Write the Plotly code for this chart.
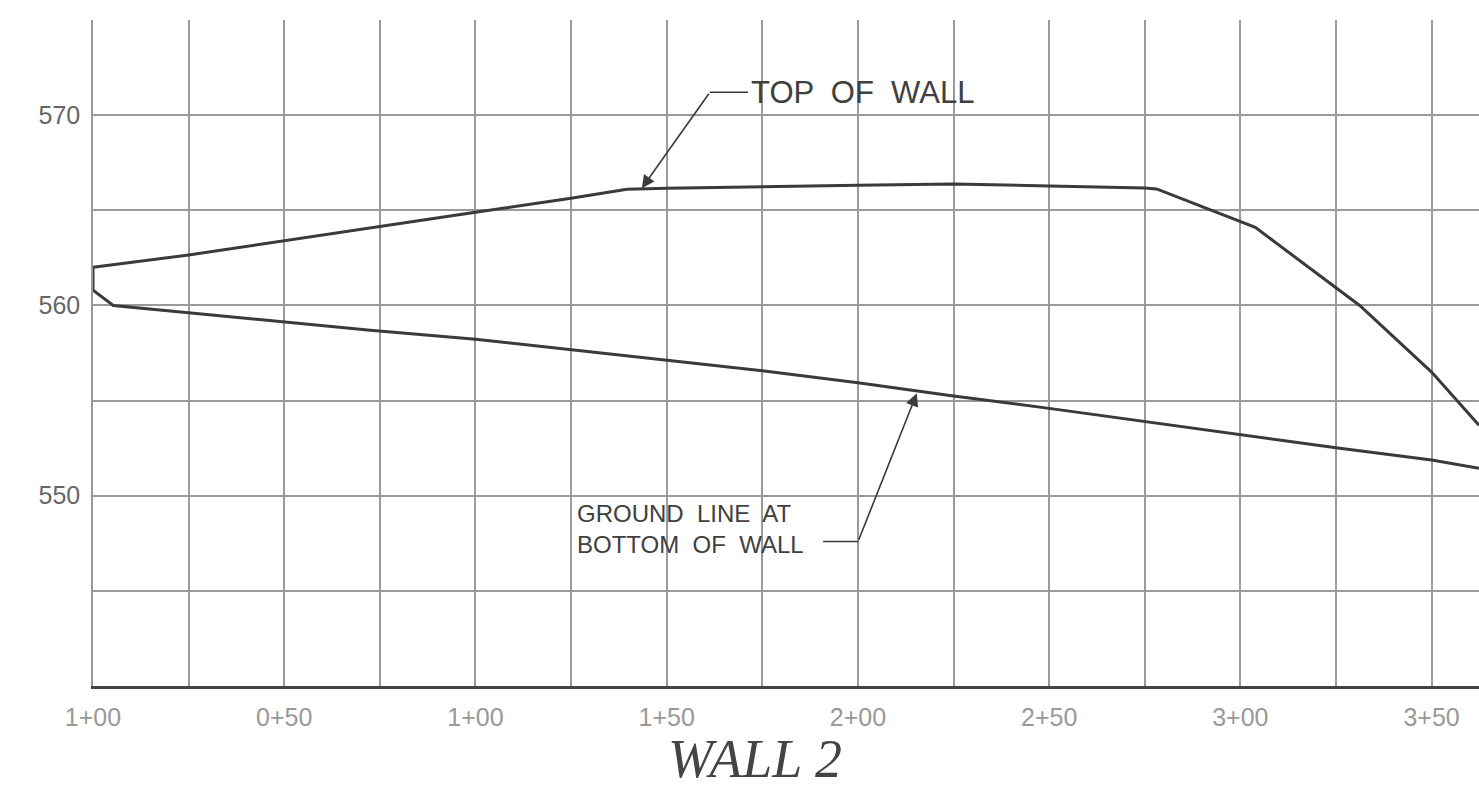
import plotly.graph_objects as go

# ---- data (station in ft from start, elevation in ft) ----
top_station = [0, 25, 50, 75, 100, 125, 139.6, 150, 175, 200, 225, 250, 275, 278.1,
               303.9, 331.2, 350, 362.4]
top_elev = [562.0, 562.65, 563.39, 564.14, 564.9, 565.63, 566.1, 566.16, 566.24, 566.31,
            566.38, 566.28, 566.17, 566.12, 564.1, 560.0, 556.5, 553.7]

end_station = [0, 0, 5.3]
end_elev = [562.0, 560.8, 560.0]

ground_station = [5.3, 25, 50, 72.5, 100, 125, 150, 175, 200, 225, 250, 268.8, 275,
                  300, 325, 350, 362.4]
ground_elev = [560.0, 559.62, 559.15, 558.7, 558.22, 557.66, 557.1, 556.57, 555.94,
               555.24, 554.59, 554.07, 553.89, 553.19, 552.52, 551.88, 551.44]

x_grid = [0, 25, 50, 75, 100, 125, 150, 175, 200, 225, 250, 275, 300, 325, 350]
x_labels = ["1+00", "", "0+50", "", "1+00", "", "1+50", "", "2+00", "", "2+50", "",
            "3+00", "", "3+50"]
y_grid = [540, 545, 550, 555, 560, 565, 570, 575]
y_labels = ["", "", "550", "", "560", "", "570", ""]

title_text = "WALL 2"
top_label = "TOP  OF  WALL"
ground_label = "GROUND  LINE  AT<br>BOTTOM  OF  WALL"

# leader geometry (data coords)
top_tip = (143.5, 566.16)
top_bend = (161.3, 571.2)
top_end = (171.3, 571.2)
gnd_tip = (215.4, 555.38)
gnd_bend = (200.05, 547.59)
gnd_start = (190.9, 547.59)

LINE = "#3a3a3a"
GRID = "#9a9a9a"
W, H = 1479, 790

# outline: top from right to left, left end, ground left to right
xs = top_station[::-1] + end_station[1:] + ground_station[1:]
ys = top_elev[::-1] + end_elev[1:] + ground_elev[1:]

fig = go.Figure()
fig.add_trace(go.Scatter(x=xs, y=ys, mode="lines",
                         line=dict(color=LINE, width=3), showlegend=False,
                         hoverinfo="skip"))

# horizontal leader segments
fig.add_shape(type="line", x0=top_bend[0], y0=top_bend[1], x1=top_end[0], y1=top_end[1],
              line=dict(color=LINE, width=1.6))
fig.add_shape(type="line", x0=gnd_start[0], y0=gnd_start[1], x1=gnd_bend[0], y1=gnd_bend[1],
              line=dict(color=LINE, width=1.6))

# arrows
for tip, bend in [(top_tip, top_bend), (gnd_tip, gnd_bend)]:
    fig.add_annotation(x=tip[0], y=tip[1], ax=bend[0], ay=bend[1],
                       xref="x", yref="y", axref="x", ayref="y",
                       text="", showarrow=True, arrowhead=2, arrowsize=1.6,
                       arrowwidth=1.6, arrowcolor=LINE, standoff=0, startstandoff=0)

fig.add_annotation(x=top_end[0] + 0.3, y=top_end[1], xref="x", yref="y",
                   text=top_label, showarrow=False, xanchor="left", yanchor="middle",
                   font=dict(family="Liberation Sans, Arial", size=31, color="#404040"))
fig.add_annotation(x=126.0, y=548.25, xref="x", yref="y",
                   text=ground_label, showarrow=False, xanchor="left", yanchor="middle",
                   align="left",
                   font=dict(family="Liberation Sans, Arial", size=24, color="#404040"))

fig.update_layout(
    width=W, height=H,
    margin=dict(l=93, r=0, t=20, b=104),
    paper_bgcolor="white", plot_bgcolor="white",
    title=dict(text=f"<i>{title_text}</i>", x=755 / W, xanchor="center",
               y=1 - 758 / H, yanchor="middle",
               font=dict(family="Liberation Serif, Times New Roman", size=54, color="#444")),
    xaxis=dict(range=[0, 362.4], tickmode="array", tickvals=x_grid, ticktext=x_labels,
               showgrid=True, gridcolor=GRID, gridwidth=1.5, zeroline=False,
               showline=True, linecolor="#444", linewidth=3,
               ticks="outside", ticklen=7, tickcolor="rgba(0,0,0,0)",
               tickfont=dict(family="Liberation Sans, Arial", size=25, color="#999")),
    yaxis=dict(range=[540, 575], tickmode="array", tickvals=y_grid, ticktext=y_labels,
               showgrid=True, gridcolor=GRID, gridwidth=1.5, zeroline=False,
               showline=True, linecolor=GRID, linewidth=1.5,
               ticks="outside", ticklen=6, tickcolor="rgba(0,0,0,0)",
               tickfont=dict(family="Liberation Sans, Arial", size=25, color="#666")),
)

# remove the browser's default body margin so the figure fills the window exactly
fig.write_html("out.html", config={"displayModeBar": False},
               post_script="document.body.style.margin='0';document.body.style.overflow='hidden';")
